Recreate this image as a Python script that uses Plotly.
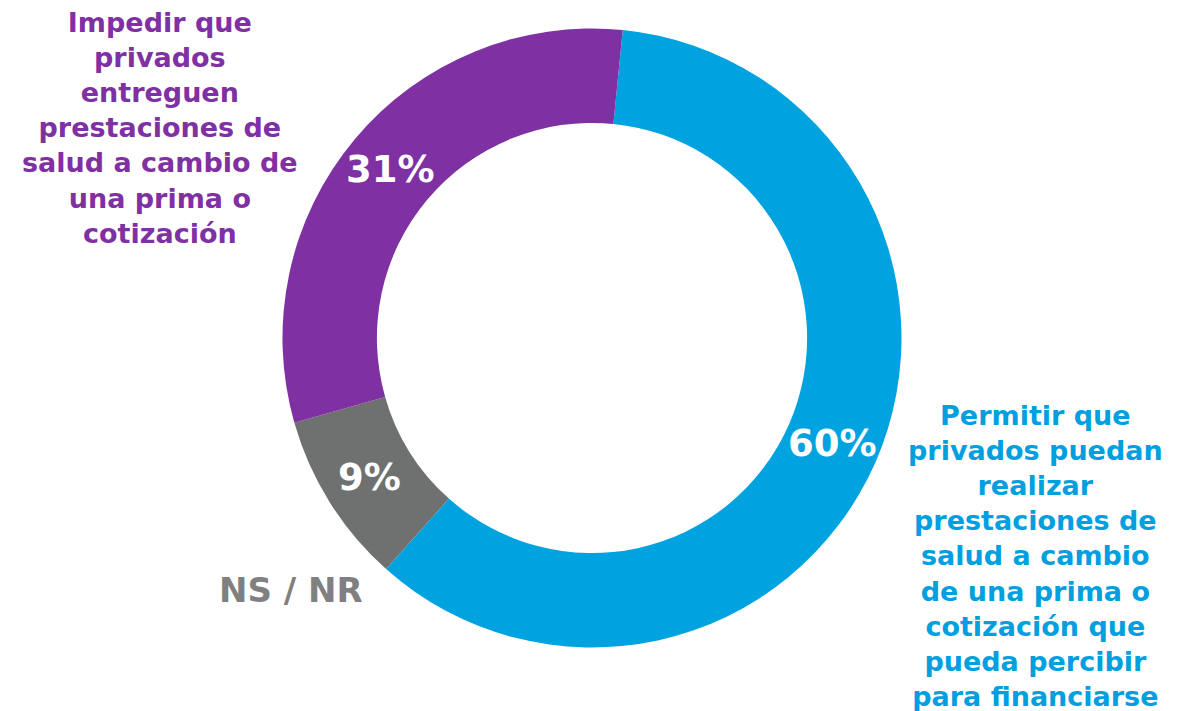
import math
import plotly.graph_objects as go

# Survey answer shares (percent)
categories = [
    "Permitir que privados puedan realizar prestaciones de salud a cambio de una prima o cotización que pueda percibir para financiarse",
    "NS / NR",
    "Impedir que privados entreguen prestaciones de salud a cambio de una prima o cotización",
]
values = [60, 9, 31]
colors = ["#00A3DF", "#6F7170", "#7F30A3"]

# Wrapped captions placed outside the ring
caption_lines = {
    "blue": ["Permitir que", "privados puedan", "realizar", "prestaciones de",
             "salud a cambio", "de una prima o", "cotización que",
             "pueda percibir", "para financiarse"],
    "gray": ["NS / NR"],
    "purple": ["Impedir que", "privados", "entreguen", "prestaciones de",
               "salud a cambio de", "una prima o", "cotización"],
}

FONT = "DejaVu Sans"
W, H = 1191, 711
ROTATION = 5.7
HOLE = 0.695

# Ring placement in pixels
cx, cy, r_out = 592, 338, 309.5
dom_x = [(cx - r_out) / W, (cx + r_out) / W]
dom_y = [1 - (cy + r_out) / H, 1 - (cy - r_out) / H]

fig = go.Figure(
    go.Pie(
        labels=categories,
        values=values,
        sort=False,
        direction="clockwise",
        rotation=ROTATION,
        hole=HOLE,
        marker=dict(colors=colors, line=dict(color="white", width=0)),
        textinfo="none",
        domain=dict(x=dom_x, y=dom_y),
        showlegend=False,
        hoverinfo="label+percent",
    )
)

# Percent labels at the middle of each slice, halfway through the ring
annotations = []
total = sum(values)
r_mid = r_out * (1 + HOLE) / 2
start = ROTATION
for v in values:
    mid = math.radians(start + 180 * v / total)
    px = cx + r_mid * math.sin(mid)
    py = cy - r_mid * math.cos(mid)
    annotations.append(dict(
        text=f"{v}%",
        x=px / W, y=1 - py / H,
        font=dict(family=FONT, size=37, color="white", weight="bold"),
    ))
    start += 360 * v / total

annotations += [
    dict(
        text="<br>".join(caption_lines["purple"]),
        x=160 / W, y=1 - 128 / H,
        font=dict(family=FONT, size=27, color="#7F30A3", weight="bold"),
    ),
    dict(
        text="<br>".join(caption_lines["blue"]),
        x=1035 / W, y=1 - 556 / H,
        font=dict(family=FONT, size=27, color="#00A0E0", weight="bold"),
    ),
    dict(
        text="<br>".join(caption_lines["gray"]),
        x=291 / W, y=1 - 590 / H,
        font=dict(family=FONT, size=34, color="#808080", weight="bold"),
    ),
]
for a in annotations:
    a.update(xref="paper", yref="paper", showarrow=False,
             xanchor="center", yanchor="middle", align="center")

fig.update_layout(
    width=W,
    height=H,
    margin=dict(l=0, r=0, t=0, b=0),
    paper_bgcolor="white",
    plot_bgcolor="white",
    annotations=annotations,
)

fig.write_html("out.html")
